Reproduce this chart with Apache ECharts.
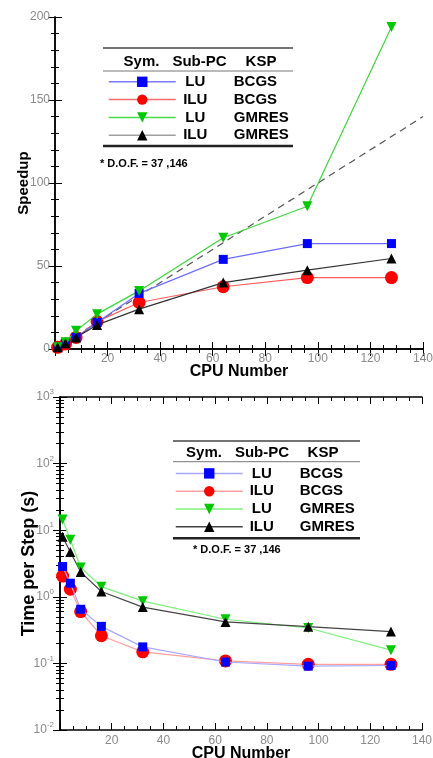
<!DOCTYPE html>
<html>
<head>
<meta charset="utf-8">
<script src="https://cdn.jsdelivr.net/npm/echarts@6/dist/echarts.min.js"></script>
<style>
html,body{margin:0;padding:0;background:#fff;}
#c{width:433px;height:758px;}
</style>
</head>
<body>
<div id="c"></div>
<script>
// ---- data ----
const cpus = [1, 4, 8, 16, 32, 64, 96, 128];
const subPc = ['LU', 'ILU', 'LU', 'ILU'];
const ksp = ['BCGS', 'BCGS', 'GMRES', 'GMRES'];
const speedupLuBcgs   = [1, 3.5, 7, 16, 33.5, 54, 63.5, 63.5];
const speedupIluBcgs  = [1, 3, 7, 16.5, 28, 37.5, 43, 43];
const speedupLuGmres  = [1, 4, 11, 21, 35, 67, 86, 194];
const speedupIluGmres = [1, 3.5, 7, 14.5, 24, 40, 47.5, 54.5];
const idealCpus    = [0, 140];
const idealSpeedup = [0, 140];
const timeLuBcgs   = [2.85, 1.6, 0.65, 0.36, 0.177, 0.105, 0.091, 0.093];
const timeIluBcgs  = [2.05, 1.3, 0.6, 0.26, 0.149, 0.109, 0.097, 0.097];
const timeLuGmres  = [14.5, 7.2, 2.75, 1.42, 0.86, 0.46, 0.34, 0.158];
const timeIluGmres = [8.0, 4.7, 2.35, 1.2, 0.70, 0.42, 0.356, 0.30];
const xTicks = [20, 40, 60, 80, 100, 120, 140];
const speedTicks = [0, 50, 100, 150, 200];
const headers = ['Sym.', 'Sub-PC', 'KSP'];
const dofText = '* D.O.F. = 37 ,146';

// ---- styles ----
const markerColors = ['#0000ff', '#ff0000', '#00c800', '#000000'];
const topLine = ['#6c6cff', '#ff5c5c', '#3ad83a', '#333333'];
const botLine = ['#a8a8ff', '#ffa0a0', '#7cf07c', '#444444'];
const topLegendLine = ['#7a7aff', '#ff6a6a', '#44dd44', '#a0a0a0'];
const symbols = ['rect', 'circle', 'triangle', 'triangle'];
const symRot = [0, 0, 180, 0];
const symSize = [9, 13, 10, 10];
const names = subPc.map((s, i) => s + ' ' + ksp[i]);

function pairs(xs, ys) { return xs.map((x, i) => [x, ys[i]]); }
const speedSets = [speedupLuBcgs, speedupIluBcgs, speedupLuGmres, speedupIluGmres];
const timeSets = [timeLuBcgs, timeIluBcgs, timeLuGmres, timeIluGmres];

const FONT = 'Liberation Sans, Arial, sans-serif';
const labelStyle = { color: '#8a8a8a', fontSize: 12, fontFamily: FONT };
const tick = { show: true, inside: true, length: 7, lineStyle: { color: '#000' } };

function xAx(grid, pos, showLab, name, gap, margin) {
  return {
    type: 'value', gridIndex: grid, position: pos, min: 0, max: 140, interval: 20,
    axisLine: { show: true, lineStyle: { color: '#000', width: 1.5 } },
    axisTick: tick,
    minorTick: { show: true, splitNumber: 4, length: 4, lineStyle: { color: '#000' } },
    splitLine: { show: false },
    axisLabel: showLab ? Object.assign({ margin: margin, formatter: v => (xTicks.indexOf(v) >= 0 ? String(v) : '') }, labelStyle) : { show: false },
    name: name || '', nameLocation: 'middle', nameGap: gap || 0, nameMoveOverlap: false,
    nameTextStyle: { fontSize: 16, fontWeight: 'bold', color: '#000', fontFamily: FONT }
  };
}
function yLin(pos, showLab) {
  return {
    type: 'value', gridIndex: 0, position: pos, min: 0, max: 200, interval: 50,
    axisLine: { show: true, lineStyle: { color: '#000', width: 1.5 } },
    axisTick: tick,
    minorTick: { show: true, splitNumber: 5, length: 4, lineStyle: { color: '#000' } },
    splitLine: { show: false },
    axisLabel: showLab ? Object.assign({ margin: 5, formatter: v => (speedTicks.indexOf(v) >= 0 ? String(v) : '') }, labelStyle) : { show: false },
    name: showLab ? 'Speedup' : '', nameLocation: 'middle', nameGap: 24, nameMoveOverlap: false,
    nameTextStyle: { fontSize: 15, fontWeight: 'bold', color: '#000', fontFamily: FONT }
  };
}
function yLog(pos, showLab) {
  return {
    type: 'log', logBase: 10, gridIndex: 1, position: pos, min: 0.01, max: 1000,
    axisLine: { show: true, lineStyle: { color: '#000', width: 1.5 } },
    axisTick: tick,
    minorTick: { show: true, splitNumber: 9, length: 4, lineStyle: { color: '#000' } },
    splitLine: { show: false },
    axisLabel: showLab ? {
      margin: 6,
      formatter: v => '{b|10}{s|' + Math.round(Math.log10(v)) + '}',
      rich: {
        b: { color: '#8a8a8a', fontSize: 12, fontFamily: FONT, lineHeight: 18, verticalAlign: 'middle' },
        s: { color: '#8a8a8a', fontSize: 8, fontFamily: FONT, lineHeight: 9, verticalAlign: 'top' }
      }
    } : { show: false },
    name: showLab ? 'Time per Step (s)' : '', nameLocation: 'middle', nameGap: 22, nameMoveOverlap: false,
    nameTextStyle: { fontSize: 18, fontWeight: 'bold', color: '#000', fontFamily: FONT }
  };
}

const series = [];
names.forEach((n, i) => {
  series.push({
    name: n, type: 'line', xAxisIndex: 0, yAxisIndex: 0,
    data: pairs(cpus, speedSets[i]),
    symbol: symbols[i], symbolRotate: symRot[i], symbolSize: symSize[i],
    itemStyle: { color: markerColors[i] },
    lineStyle: { color: topLine[i], width: 1.2 },
    z: 3 + (i === 1 ? 0 : 1)
  });
});
series.push({
  name: 'ideal', type: 'line', xAxisIndex: 0, yAxisIndex: 0,
  data: pairs(idealCpus, idealSpeedup), symbol: 'none',
  lineStyle: { color: '#555', width: 1.2, type: [7, 5] }, z: 2
});
names.forEach((n, i) => {
  series.push({
    name: n, type: 'line', xAxisIndex: 2, yAxisIndex: 2,
    data: pairs(cpus, timeSets[i]),
    symbol: symbols[i], symbolRotate: symRot[i], symbolSize: symSize[i],
    itemStyle: { color: markerColors[i] },
    lineStyle: { color: botLine[i], width: 1.2 },
    z: 3 + (i === 1 ? 0 : 1)
  });
});

function legendCfg(left, top, lineCols, aw) {
  return {
    orient: 'vertical', left: left, top: top, padding: 0,
    itemWidth: 67, itemHeight: 13, itemGap: 2.8,
    selectedMode: false,
    data: names.map((n, i) => ({ name: n, itemStyle: { color: markerColors[i] }, lineStyle: { color: lineCols[i], width: 1.5 } })),
    formatter: n => { const p = n.split(' '); return '{a|' + p[0] + '}{b|' + p[1] + '}'; },
    textStyle: {
      rich: {
        a: { width: aw, align: 'right', fontSize: 15, fontWeight: 'bold', color: '#000', fontFamily: FONT, lineHeight: 16 },
        b: { padding: [0, 0, 0, 24], align: 'left', fontSize: 15, fontWeight: 'bold', color: '#000', fontFamily: FONT, lineHeight: 16 }
      }
    }
  };
}

function tableGraphics(x0, x1, yTop, yMid, yBot, hdr, hy, dofX, dofY) {
  const txt = (t, x, y, size) => ({
    type: 'text', x: x, y: y,
    style: { text: t, fill: '#000', font: 'bold ' + size + 'px ' + FONT, textAlign: 'center', textVerticalAlign: 'middle' }
  });
  return [
    { type: 'line', shape: { x1: x0, y1: yTop, x2: x1, y2: yTop }, style: { stroke: '#444', lineWidth: 1.5 } },
    { type: 'line', shape: { x1: x0, y1: yMid, x2: x1, y2: yMid }, style: { stroke: '#777', lineWidth: 1 } },
    { type: 'line', shape: { x1: x0, y1: yBot, x2: x1, y2: yBot }, style: { stroke: '#222', lineWidth: 2.5 } },
    txt(headers[0], hdr[0], hy, 15), txt(headers[1], hdr[1], hy, 15), txt(headers[2], hdr[2], hy, 15),
    { type: 'text', x: dofX, y: dofY,
      style: { text: dofText, fill: '#000', font: 'bold 11px ' + FONT, textAlign: 'left', textVerticalAlign: 'middle' } }
  ];
}

const option = {
  animation: false,
  backgroundColor: '#fff',
  grid: [
    { left: 55, top: 17, width: 368, height: 332, show: false, outerBoundsMode: 'none', containLabel: false },
    { left: 60, top: 397, width: 362, height: 333, show: false, outerBoundsMode: 'none', containLabel: false }
  ],
  xAxis: [
    xAx(0, 'bottom', true, 'CPU Number', 15, 4),
    xAx(0, 'top', false),
    xAx(1, 'bottom', true, 'CPU Number', 15.5, 5),
    xAx(1, 'top', false)
  ],
  yAxis: [
    yLin('left', true), yLin('right', false),
    yLog('left', true), yLog('right', false)
  ],
  legend: [
    legendCfg(108, 74.3, topLegendLine, 29),
    legendCfg(175, 465.9, botLine, 28)
  ],
  graphic: [].concat(
    tableGraphics(103, 293, 48, 71, 146, [141.5, 199.5, 261], 62, 100, 164),
    tableGraphics(173, 360, 441, 461.7, 538.3, [204, 262, 323], 452.7, 193, 550)
  ),
  series: series
};

const chart = echarts.init(document.getElementById('c'), null, { renderer: 'canvas' });
chart.setOption(option);
</script>
</body>
</html>
